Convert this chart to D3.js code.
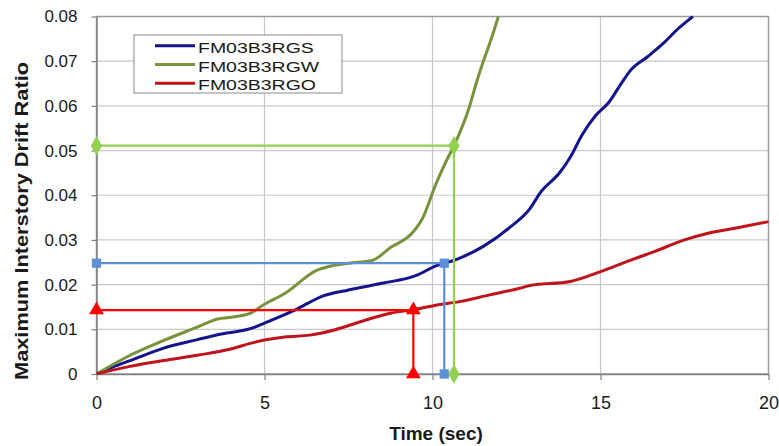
<!DOCTYPE html>
<html>
<head>
<meta charset="utf-8">
<script src="https://cdn.jsdelivr.net/npm/d3@7"></script>
<style>
  html, body { margin: 0; padding: 0; background: #fff; }
  svg { display: block; font-family: "Liberation Sans", Arial, sans-serif; }
</style>
</head>
<body>
<svg id="chart" width="779" height="446"></svg>
<script>
// ---- data ----
const seriesNames = ["FM03B3RGS", "FM03B3RGW", "FM03B3RGO"];

const timeS  = [0, 0.5, 1, 2, 3, 3.6, 4.6, 5, 5.9, 6.75, 7.5, 8.5, 9.5, 10.1, 10.7, 11.5, 12.3, 12.9, 13.2, 13.8, 14.1, 14.45, 14.85, 15.25, 15.6, 15.9, 16.4, 16.9, 17.3, 17.55, 17.75];
const driftS = [0, 0.0016, 0.003, 0.0058, 0.0077, 0.0088, 0.0102, 0.0114, 0.0143, 0.0175, 0.0188, 0.0203, 0.022, 0.0242, 0.0256, 0.0285, 0.0328, 0.0370, 0.0405, 0.0452, 0.0485, 0.0535, 0.0578, 0.0608, 0.0648, 0.0680, 0.0710, 0.0742, 0.0772, 0.0788, 0.0800];

const timeW  = [0, 1, 2, 3, 3.6, 4.1, 4.6, 5, 5.6, 6.55, 7.05, 7.5, 8.2, 8.75, 9.4, 9.7, 10.1, 10.4, 10.64, 11.1, 11.3, 11.5, 11.75, 11.96];
const driftW = [0, 0.0042, 0.0075, 0.0105, 0.0123, 0.0128, 0.0137, 0.0156, 0.018, 0.0232, 0.0243, 0.0248, 0.0254, 0.0283, 0.0316, 0.0348, 0.0425, 0.0475, 0.0511, 0.0598, 0.065, 0.0697, 0.075, 0.08];

const timeO  = [0, 1, 2, 3, 4, 4.6, 5, 5.6, 6.35, 7.05, 7.85, 8.75, 9.43, 10.1, 10.8, 11.7, 12.6, 12.9, 14.1, 15.0, 15.8, 16.6, 17.5, 18.2, 19.0, 20];
const driftO = [0, 0.0017, 0.003, 0.0042, 0.0056, 0.0069, 0.0076, 0.0083, 0.0087, 0.0098, 0.0117, 0.0136, 0.0144, 0.0154, 0.0162, 0.0177, 0.0192, 0.0198, 0.0207, 0.0229, 0.0252, 0.0274, 0.0300, 0.0315, 0.0326, 0.0341];

// marker guide lines (time, drift) per series
const guideTimes  = [10.35, 10.64, 9.43];
const guideDrifts = [0.0248, 0.0511, 0.0143];

const xTickValues = [0, 5, 10, 15, 20];
const xTickLabels = ["0", "5", "10", "15", "20"];
const yTickValues = [0, 0.01, 0.02, 0.03, 0.04, 0.05, 0.06, 0.07, 0.08];
const yTickLabels = ["0", "0.01", "0.02", "0.03", "0.04", "0.05", "0.06", "0.07", "0.08"];

const xTitle = "Time (sec)";
const yTitle = "Maximum Interstory Drift Ratio";

// ---- styles ----
const lineColors  = ["#14148c", "#77933c", "#c0141c"];
const guideColors = ["#5b8fd6", "#92d050", "#ff0000"];
const markerTypes = [d3.symbolSquare, d3.symbolDiamond, d3.symbolTriangle];
const markerSizes = [85, 110, 95];

const svg = d3.select("#chart");
const x = d3.scaleLinear().domain([0, 20]).range([96.5, 768.5]);
const y = d3.scaleLinear().domain([0, 0.08]).range([374, 16.5]);

// gridlines
const grid = svg.append("g");
grid.selectAll("line.h").data(yTickValues.slice(1, -1)).join("line")
  .attr("x1", x(0)).attr("x2", x(20))
  .attr("y1", d => y(d)).attr("y2", d => y(d))
  .attr("stroke", "#c8c8c8").attr("stroke-width", 1.2);
grid.selectAll("line.v").data(xTickValues.slice(1, -1)).join("line")
  .attr("x1", d => x(d)).attr("x2", d => x(d))
  .attr("y1", y(0)).attr("y2", y(0.08))
  .attr("stroke", "#c8c8c8").attr("stroke-width", 1.2);

// plot frame (top/right)
svg.append("rect")
  .attr("x", x(0)).attr("y", y(0.08))
  .attr("width", x(20) - x(0)).attr("height", y(0) - y(0.08))
  .attr("fill", "none").attr("stroke", "#9a9a9a").attr("stroke-width", 1.5);

// axes
const yAxis = d3.axisLeft(y).tickValues(yTickValues)
  .tickFormat((d, i) => yTickLabels[i]).tickSize(5).tickPadding(14).tickSizeOuter(0);
const xAxis = d3.axisBottom(x).tickValues(xTickValues)
  .tickFormat((d, i) => xTickLabels[i]).tickSize(6).tickPadding(16).tickSizeOuter(0);

const gy = svg.append("g").attr("transform", `translate(${x(0)},0)`).call(yAxis);
const gx = svg.append("g").attr("transform", `translate(0,${y(0)})`).call(xAxis);
[gx, gy].forEach(g => {
  g.select(".domain").attr("stroke", "#808080").attr("stroke-width", 1.5);
  g.selectAll(".tick line").attr("stroke", "#808080").attr("stroke-width", 1.2);
  g.selectAll(".tick text").attr("fill", "#1a1a1a")
    .style("font-family", '"Liberation Sans", Arial, sans-serif');
});
gy.selectAll(".tick text").style("font-size", "17px");
gx.selectAll(".tick text").style("font-size", "18px");

// data lines
const allT = [timeS, timeW, timeO];
const allV = [driftS, driftW, driftO];
const line = d3.line().x(d => x(d[0])).y(d => y(d[1])).curve(d3.curveMonotoneX);
svg.append("clipPath").attr("id", "plotclip").append("rect")
  .attr("x", x(0)).attr("y", y(0.08) - 1).attr("width", x(20) - x(0) + 2).attr("height", y(0) - y(0.08) + 2);

allT.forEach((ts, i) => {
  const pts = ts.map((t, j) => [t, allV[i][j]]);
  svg.append("path").datum(pts)
    .attr("d", line)
    .attr("fill", "none")
    .attr("stroke", lineColors[i])
    .attr("stroke-width", 3)
    .attr("stroke-linejoin", "round")
    .attr("clip-path", "url(#plotclip)");
});

// guide lines + markers
guideTimes.forEach((t, i) => {
  const v = guideDrifts[i];
  const pts = [[0, v], [t, v], [t, 0]];
  svg.append("path").datum(pts)
    .attr("d", d3.line().x(d => x(d[0])).y(d => y(d[1])))
    .attr("fill", "none").attr("stroke", guideColors[i]).attr("stroke-width", 2.2);
  svg.selectAll(null).data(pts).join("path")
    .attr("transform", d => `translate(${x(d[0])},${y(d[1])})`)
    .attr("d", d3.symbol().type(markerTypes[i]).size(markerSizes[i]))
    .attr("fill", guideColors[i]);
});

// axis titles
svg.append("text")
  .attr("x", 436).attr("y", 440)
  .attr("text-anchor", "middle")
  .style("font-size", "19px").style("font-weight", "bold")
  .attr("fill", "#1a1a1a")
  .text(xTitle);

svg.append("text")
  .attr("transform", "translate(27.5,221) rotate(-90)")
  .attr("text-anchor", "middle")
  .style("font-size", "18.5px").style("font-weight", "bold")
  .attr("fill", "#1a1a1a")
  .attr("textLength", 318).attr("lengthAdjust", "spacingAndGlyphs")
  .text(yTitle);

// legend
const lg = svg.append("g");
lg.append("rect").attr("x", 134).attr("y", 35).attr("width", 208).attr("height", 58)
  .attr("fill", "#fff").attr("stroke", "#8a8a8a").attr("stroke-width", 1);
const rowLineY = [45.7, 64.5, 83.3];
seriesNames.forEach((name, i) => {
  lg.append("line").attr("x1", 155).attr("x2", 195)
    .attr("y1", rowLineY[i]).attr("y2", rowLineY[i])
    .attr("stroke", lineColors[i]).attr("stroke-width", 3);
  lg.append("text")
    .attr("transform", `translate(198,${rowLineY[i] + 7}) scale(1.3,1)`)
    .style("font-size", "15px").attr("fill", "#1a1a1a")
    .text(name);
});
</script>
</body>
</html>
